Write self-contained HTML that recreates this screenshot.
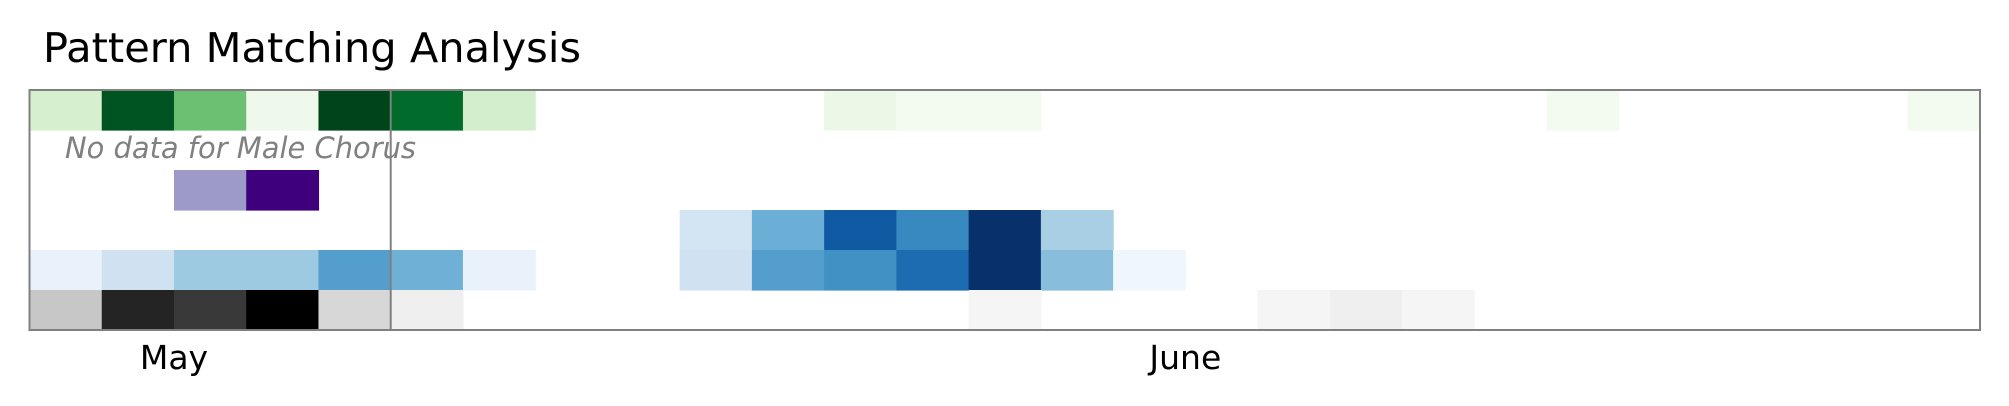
<!DOCTYPE html>
<html><head><meta charset="utf-8"><style>
html,body{margin:0;padding:0;background:#fff;width:2009px;height:406px;overflow:hidden}
svg{display:block}
</style></head><body>
<svg id="chart" width="2009" height="406" viewBox="0 0 2009 406" font-family="'DejaVu Sans','Liberation Sans',sans-serif">
<text x="43" y="62" font-size="41" fill="#000" textLength="538" lengthAdjust="spacingAndGlyphs">Pattern Matching Analysis</text>
<g id="cells"></g>
<text x="65" y="158" font-size="29" font-style="italic" fill="#808080" textLength="351" lengthAdjust="spacingAndGlyphs">No data for Male Chorus</text>
<g id="xticks"></g>
</svg>
<script>
const nCols = 27;
const rowNames = ["green-row","male-chorus-row","purple-row","blue-row-a","blue-row-b","grey-row"];
const rowMaps = ["Greens","none","Purples","Blues","Blues","Greys"];
const row0 = {0:0.19,1:0.95,2:0.52,3:0.06,4:1.0,5:0.88,6:0.2,11:0.08,12:0.03,13:0.03,21:0.03,26:0.03};
const row1 = {};
const row2 = {2:0.5,3:1.0};
const row3 = {9:0.18,10:0.5,11:0.84,12:0.66,13:1.0,14:0.34};
const row4 = {0:0.07,1:0.2,2:0.375,3:0.375,4:0.57,5:0.49,6:0.07,9:0.2,10:0.57,11:0.63,12:0.77,13:1.0,14:0.43,15:0.04};
const row5 = {0:0.33,1:0.88,2:0.82,3:1.0,4:0.26,5:0.13,13:0.08,17:0.08,18:0.13,19:0.08};
const monthLabels = ["May","June"];
const monthCenters = [2,16];
const dividerCol = 5;

const cmaps = {
 Greens:["#f7fcf5","#e5f5e0","#c7e9c0","#a1d99b","#74c476","#41ab5d","#238b45","#006d2c","#00441b"],
 Blues:["#f7fbff","#deebf7","#c6dbef","#9ecae1","#6baed6","#4292c6","#2171b5","#08519c","#08306b"],
 Purples:["#fcfbfd","#efedf5","#dadaeb","#bcbddc","#9e9ac8","#807dba","#6a51a3","#54278f","#3f007d"],
 Greys:["#ffffff","#f0f0f0","#d9d9d9","#bdbdbd","#969696","#737373","#525252","#252525","#000000"]
};
function hex(c){return [1,3,5].map(i=>parseInt(c.substr(i,2),16));}
function cmap(name,v){
 const s=cmaps[name]; v=Math.max(0,Math.min(1,v));
 const p=v*(s.length-1); const i=Math.min(Math.floor(p),s.length-2); const t=p-i;
 const a=hex(s[i]), b=hex(s[i+1]);
 return "rgb("+a.map((x,k)=>Math.round(x+(b[k]-x)*t)).join(",")+")";
}
const L=29.5,R=1980,T=90,B=330;
const rows=[row0,row1,row2,row3,row4,row5];
const cw=(R-L)/nCols, rh=(B-T)/rows.length;
const xs=c=>L+c*cw, ys=r=>T+r*rh;
const NS="http://www.w3.org/2000/svg";
const g=document.getElementById("cells");
rows.forEach((row,r)=>{
 Object.keys(row).forEach(k=>{
  const c=+k;
  const el=document.createElementNS(NS,"rect");
  el.setAttribute("x",xs(c)); el.setAttribute("y",ys(r));
  el.setAttribute("width",cw+0.6); el.setAttribute("height",rh+0.6);
  el.setAttribute("fill",cmap(rowMaps[r],row[k]));
  
  
  g.appendChild(el);
 });
});
const svg=document.getElementById("chart");
const frame=document.createElementNS(NS,"rect");
frame.setAttribute("x",L);frame.setAttribute("y",T);frame.setAttribute("width",R-L);frame.setAttribute("height",B-T);
frame.setAttribute("fill","none");frame.setAttribute("stroke","#808080");frame.setAttribute("stroke-width","2");


svg.appendChild(frame);
const div=document.createElementNS(NS,"line");
div.setAttribute("x1",xs(dividerCol));div.setAttribute("x2",xs(dividerCol));div.setAttribute("y1",T);div.setAttribute("y2",B);
div.setAttribute("stroke","#808080");div.setAttribute("stroke-width","2");


svg.appendChild(div);
const xt=document.getElementById("xticks");
monthLabels.forEach((m,i)=>{
 const t=document.createElementNS(NS,"text");
 t.setAttribute("x",xs(monthCenters[i]));t.setAttribute("y",369);
 t.setAttribute("text-anchor","middle");t.setAttribute("font-size","33");t.setAttribute("fill","#000");
 t.textContent=m;
 
 
 xt.appendChild(t);
});
</script>
</body></html>
